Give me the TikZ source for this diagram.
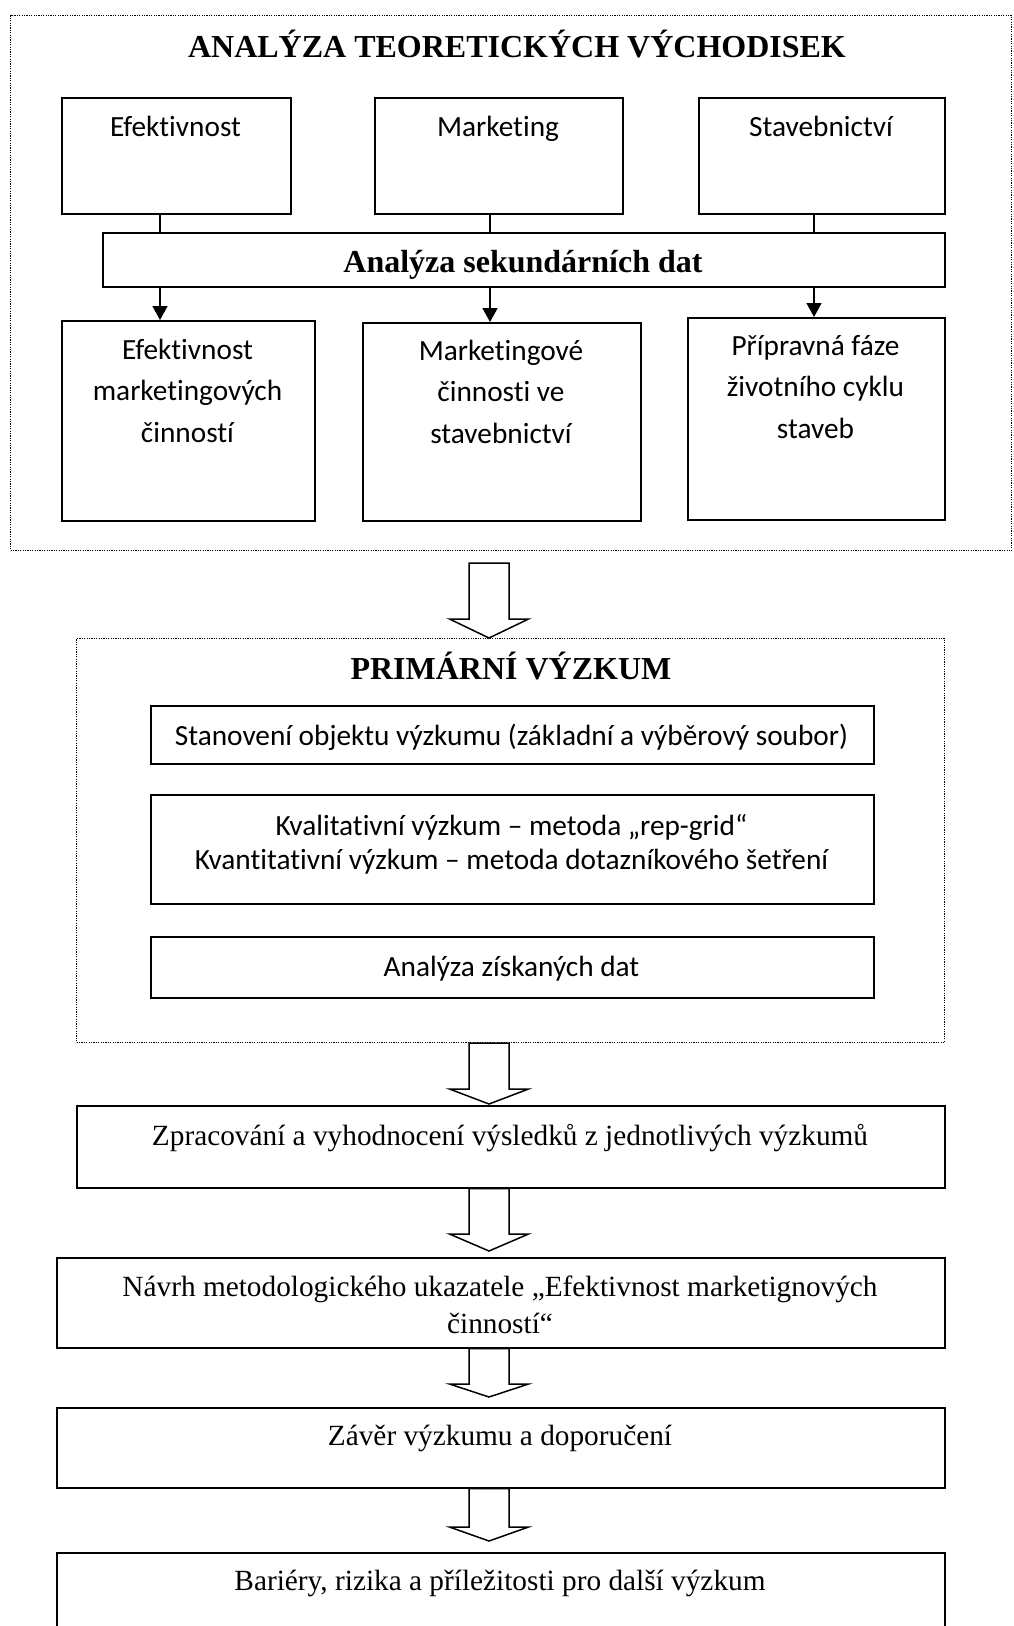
\documentclass[tikz,border=0pt]{standalone}
\usepackage{fontspec}
\setmainfont{Liberation Serif}
\setsansfont{Carlito}[Ligatures=CommonOff]
\usetikzlibrary{positioning,calc,arrows.meta}

% hollow block arrow between two nodes: from, to, gap at top, gap at tip, head length
\newcommand\fatarrow[5]{%
  \draw [fat] ($(axis |- #1.south)+(-20,#3)$)
    -- ($(axis |- #1.south)+(20,#3)$)
    -- ($(axis |- #2.north)+(20,-#4-#5)$)
    -- ($(axis |- #2.north)+(39.5,-#4-#5)$)
    -- ($(axis |- #2.north)+(0,-#4)$)
    -- ($(axis |- #2.north)+(-39.5,-#4-#5)$)
    -- ($(axis |- #2.north)+(-20,-#4-#5)$)
    -- cycle;}

\begin{document}
\begin{tikzpicture}[x=1pt, y=-1pt
% Box styles
    , frame/.style={rectangle
                  , draw=black, line width=1.2pt
                  , dash pattern=on 1.2pt off 1.2pt
                  , inner sep=0pt
                  , anchor=north west}
    , box/.style={rectangle
                  , draw=black, line width=1.6pt
                  , inner sep=0pt
                  , anchor=north west}
    , wh/.style 2 args={minimum width=#1pt, minimum height=#2pt}
% Text styles (base = baseline of the last line)
    , heading/.style={font=\bfseries\fontsize{32}{38}\selectfont
                  , anchor=base, inner sep=0pt}
    , sanstext/.style={font=\sffamily\fontsize{29.3}{41.5}\selectfont
                  , align=center, anchor=base, inner sep=0pt}
    , seriftext/.style={font=\fontsize{29.3}{37}\selectfont
                  , align=center, anchor=base, inner sep=0pt}
% Connector styles
    , link/.style={line width=1.6pt}
    , fat/.style={draw=black, line width=1.5pt, line join=miter, fill=white}
    , >={Triangle[width=15pt, length=14pt]}
  ]
  \clip (0,0) rectangle (1014,1626);
%% Theory part
  \node [frame, wh={1001}{535}] (teorie) at (10,15) {};
  \node [heading] (teorieT) at (517,57) {ANALÝZA TEORETICKÝCH VÝCHODISEK};
  \node [box, wh={229}{116}] (eff) at (61,97) {};
  \node [box, wh={248}{116}] (mkt) at (374,97) {};
  \node [box, wh={246}{116}] (stav) at (698,97) {};
  \node [sanstext] (effT) at (175.5,136) {Efektivnost};
  \node [sanstext] (mktT) at (498,136) {Marketing};
  \node [sanstext] (stavT) at (821,136) {Stavebnictví};
  \node [box, wh={842}{54}] (sek) at (102,232) {};
  \node [heading] (sekT) at (523,272) {Analýza sekundárních dat};
  \node [box, wh={253}{200}] (res1) at (61,320) {};
  \node [box, wh={278}{198}] (res2) at (362,322) {};
  \node [box, wh={257}{202}] (res3) at (687,317) {};
  \node [sanstext] (res1T) at (187.5,442) {Efektivnost\\marketingových\\činností};
  \node [sanstext] (res2T) at (501,443) {Marketingové\\činnosti ve\\stavebnictví};
  \node [sanstext] (res3T) at (815.5,438) {Přípravná fáze\\životního cyklu\\staveb};
%% Primary research
  \node [frame, wh={868}{404}] (prim) at (76,638) {};
  \node [heading] (primT) at (511,679) {PRIMÁRNÍ VÝZKUM};
  \node [box, wh={723}{58}] (objekt) at (150,705) {};
  \node [box, wh={723}{109}] (metody) at (150,794) {};
  \node [box, wh={723}{61}] (analyza) at (150,936) {};
  \node [sanstext] (objektT) at (511.5,745) {Stanovení objektu výzkumu (základní a výběrový soubor)};
  \node [sanstext, font=\sffamily\fontsize{29.3}{34}\selectfont] (metodyT) at (511.5,869)
    {Kvalitativní výzkum – metoda „rep-grid“\\Kvantitativní výzkum – metoda dotazníkového šetření};
  \node [sanstext] (analyzaT) at (511.5,976) {Analýza získaných dat};
%% Results
  \node [box, wh={868}{82}] (zprac) at (76,1105) {};
  \node [box, wh={888}{90}] (navrh) at (56,1257) {};
  \node [box, wh={888}{80}] (zaver) at (56,1407) {};
  \node [box, wh={888}{120}] (bariery) at (56,1552) {};
  \node [seriftext] (zpracT) at (510,1145) {Zpracování a vyhodnocení výsledků z jednotlivých výzkumů};
  \node [seriftext] (navrhT) at (500,1333) {Návrh metodologického ukazatele „Efektivnost marketignových\\činností“};
  \node [seriftext] (zaverT) at (500,1445) {Závěr výzkumu a doporučení};
  \node [seriftext] (barieryT) at (500,1590) {Bariéry, rizika a příležitosti pro další výzkum};
%% Edges
  \coordinate (s1) at (160,0);
  \coordinate (s2) at (490,0);
  \coordinate (s3) at (814,0);
  \foreach \up/\down/\x in {eff/res1/s1, mkt/res2/s2, stav/res3/s3}
    {\draw [link] (\up.south -| \x) -- (sek.north -| \x);
     \draw [link, ->] (sek.south -| \x) -- (\down.north -| \x);}
  \coordinate (axis) at (489,0);
  \fatarrow{teorie}{prim}{12}{0}{19}
  \fatarrow{prim}{zprac}{0}{1}{15}
  \fatarrow{zprac}{navrh}{0}{6}{17}
  \fatarrow{navrh}{zaver}{0}{10}{13}
  \fatarrow{zaver}{bariery}{0}{11}{14}
\end{tikzpicture}
\end{document}
